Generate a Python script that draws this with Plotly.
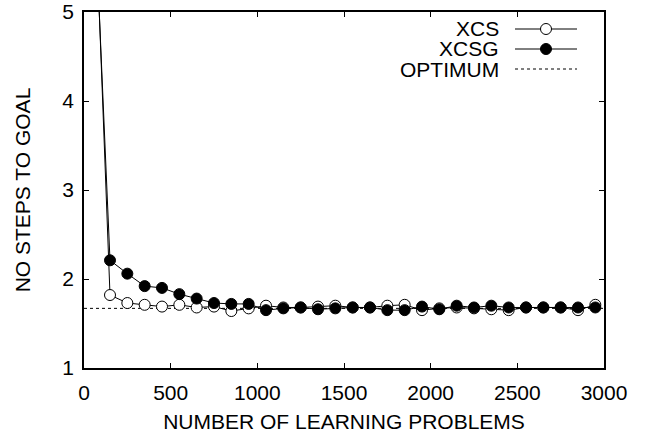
import plotly.graph_objects as go

# ---- data ----
problems = [50, 150, 250, 350, 450, 550, 650, 750, 850, 950,
            1050, 1150, 1250, 1350, 1450, 1550, 1650, 1750, 1850, 1950,
            2050, 2150, 2250, 2350, 2450, 2550, 2650, 2750, 2850, 2950]
xcs = [6.95, 1.82, 1.73, 1.71, 1.69, 1.71, 1.68, 1.69, 1.64, 1.67,
       1.70, 1.68, 1.68, 1.69, 1.70, 1.68, 1.68, 1.70, 1.71, 1.65,
       1.67, 1.68, 1.67, 1.66, 1.65, 1.68, 1.68, 1.68, 1.65, 1.71]
xcsg = [6.70, 2.21, 2.06, 1.92, 1.90, 1.83, 1.78, 1.73, 1.72, 1.72,
        1.65, 1.67, 1.68, 1.66, 1.67, 1.68, 1.68, 1.65, 1.65, 1.69,
        1.66, 1.70, 1.68, 1.70, 1.68, 1.68, 1.68, 1.68, 1.68, 1.68]
optimum_x = [0, 3000]
optimum_y = [1.67, 1.67]

x_ticks = [0, 500, 1000, 1500, 2000, 2500, 3000]
y_ticks = [1, 2, 3, 4, 5]
legend_names = ["XCS", "XCSG", "OPTIMUM"]

FONT = "Liberation Sans, Arial, Helvetica, sans-serif"
FS = 21

fig = go.Figure()
fig.add_trace(go.Scatter(x=optimum_x, y=optimum_y, mode="lines",
                         line=dict(color="black", width=1, dash="dot"),
                         showlegend=False))
fig.add_trace(go.Scatter(x=problems, y=xcs, mode="lines+markers",
                         line=dict(color="black", width=1),
                         marker=dict(symbol="circle", size=11, color="white",
                                     line=dict(color="black", width=1)),
                         showlegend=False))
fig.add_trace(go.Scatter(x=problems, y=xcsg, mode="lines+markers",
                         line=dict(color="black", width=1),
                         marker=dict(symbol="circle", size=11, color="black",
                                     line=dict(color="black", width=1)),
                         showlegend=False))

# plot area in window pixels: x 84..604, y 12..368 (page body margin removed)
W, H = 646, 437
PL, PT, PW, PH = 84, 12, 520, 356
L, T = PL, PT
R, B = W - L - PW, H - T - PH

def px_x(p):
    return (p - PL) / PW

def px_y(p):
    return (PT + PH - p) / PH

# gnuplot-style key: text right-aligned, sample to the right
rows = [29, 49, 69]
shapes = []
annotations = []
for name, ry in zip(legend_names, rows):
    annotations.append(dict(x=px_x(500), y=px_y(ry), xref="paper", yref="paper",
                            text=name, showarrow=False, xanchor="right",
                            yanchor="middle", borderpad=0,
                            font=dict(family=FONT, size=FS, color="black")))
shapes.append(dict(type="line", xref="paper", yref="paper", x0=px_x(515), x1=px_x(577),
                   y0=px_y(rows[0]), y1=px_y(rows[0]), line=dict(color="black", width=1)))
shapes.append(dict(type="line", xref="paper", yref="paper", x0=px_x(515), x1=px_x(577),
                   y0=px_y(rows[1]), y1=px_y(rows[1]), line=dict(color="black", width=1)))
shapes.append(dict(type="line", xref="paper", yref="paper", x0=px_x(515), x1=px_x(577),
                   y0=px_y(rows[2]), y1=px_y(rows[2]), line=dict(color="black", width=1, dash="dot")))
for ry, fill in [(rows[0], "white"), (rows[1], "black")]:
    shapes.append(dict(type="circle", xref="paper", yref="paper",
                       xsizemode="pixel", ysizemode="pixel",
                       xanchor=px_x(546), yanchor=px_y(ry),
                       x0=-5.5, x1=5.5, y0=-5.5, y1=5.5,
                       fillcolor=fill, line=dict(color="black", width=1)))

axis_common = dict(showgrid=False, zeroline=False, showline=True, linecolor="black",
                   linewidth=1.5, mirror="ticks", ticks="inside", ticklen=5,
                   tickcolor="black", tickwidth=1, automargin=False,
                   ticklabeloverflow="allow",
                   tickfont=dict(family=FONT, size=FS, color="black"))

fig.update_layout(
    width=W, height=H,
    margin=dict(l=L, r=R, t=T, b=B),
    paper_bgcolor="white", plot_bgcolor="white",
    font=dict(family=FONT, size=FS, color="black"),
    xaxis=dict(range=[0, 3000], tickvals=x_ticks, ticklabelstandoff=5,
               title=dict(text="NUMBER OF LEARNING PROBLEMS", standoff=11,
                          font=dict(family=FONT, size=FS)),
               **axis_common),
    yaxis=dict(range=[1, 5], tickvals=y_ticks, ticklabelstandoff=4,
               title=dict(text="NO STEPS TO GOAL", standoff=26,
                          font=dict(family=FONT, size=FS)),
               **axis_common),
    shapes=shapes,
    annotations=annotations,
    showlegend=False,
)

fig.write_html("out.html", config={"displayModeBar": False},
               post_script="document.body.style.margin='0';")
